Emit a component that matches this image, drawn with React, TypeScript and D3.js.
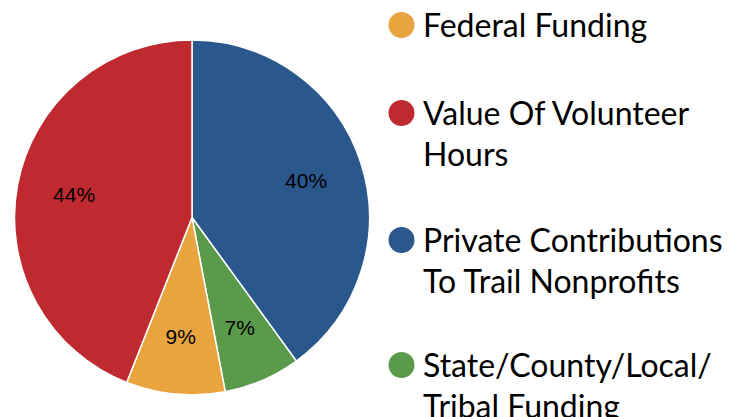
import React from "react";
import * as d3 from "d3";

const categories = ["Private Contributions To Trail Nonprofits", "State/County/Local/Tribal Funding", "Federal Funding", "Value Of Volunteer Hours"];
const values = [40, 7, 9, 44];
const colors = ["#2b588c", "#5b9a4b", "#e9a43f", "#bf2a31"];
const legendOrder = [2, 3, 0, 1];
const legendLines = [["Federal Funding"], ["Value Of Volunteer", "Hours"], ["Private Contributions", "To Trail Nonprofits"], ["State/County/Local/", "Tribal Funding"]];

export default function App() {
  const cx = 192, cy = 217.5, r = 177.5, lr = 120;
  const pie = d3.pie<number>().sort(null).value((d) => d);
  const arcs = pie(values);
  const arc = d3.arc<d3.PieArcDatum<number>>().innerRadius(0).outerRadius(r);
  const labelArc = d3.arc<d3.PieArcDatum<number>>().innerRadius(lr).outerRadius(lr);
  const legendY = [25, 113, 240, 365];
  return (
    <svg width={738} height={417} style={{ position: "absolute", left: 0, top: 0 }}>
      <rect width={738} height={417} fill="#fff" />
      <g transform={`translate(${cx},${cy})`}>
        {arcs.map((a, i) => (
          <path key={i} d={arc(a) || ""} fill={colors[i]} stroke="#fff" strokeWidth={1.5} />
        ))}
        {arcs.map((a, i) => {
          const [x, y] = labelArc.centroid(a);
          return (
            <text key={i} x={x} y={y} dy="0.35em" textAnchor="middle" fontFamily="Liberation Sans, Arial" fontSize={21} fill="#000">
              {values[i]}%
            </text>
          );
        })}
      </g>
      {legendOrder.map((ci, k) => (
        <g key={k}>
          <circle cx={401.5} cy={legendY[k]} r={13} fill={colors[ci]} />
          {legendLines[k].map((ln, j) => (
            <text key={j} x={423} y={legendY[k] + 12 + j * 41} fontFamily="Lato, Open Sans, sans-serif" fontSize={32} fill="#000">
              {ln}
            </text>
          ))}
        </g>
      ))}
    </svg>
  );
}
